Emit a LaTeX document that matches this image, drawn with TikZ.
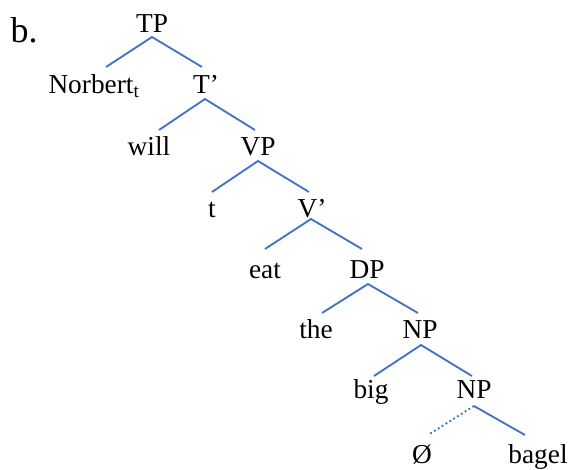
\documentclass[tikz,border=0pt]{standalone}
\usepackage{fontspec}
\setmainfont{Liberation Serif}
\begin{document}
\begin{tikzpicture}[x=0.75pt,y=-0.75pt,
  lbl/.style={anchor=base,inner sep=0pt,font=\fontsize{20.5pt}{24pt}\selectfont},
  br/.style={line width=1.4pt,color={rgb,255:red,68;green,114;blue,196}},
  dotbr/.style={br,dotted}]
\useasboundingbox (0,0) rectangle (568,469);
\node[anchor=base,inner sep=0pt,font=\fontsize{27pt}{30pt}\selectfont] (lab) at (24,42) {b.};
% labels
\node[lbl] (TP) at (152,32) {TP};
\node[lbl] (Nor) at (94,93) {Norbert\textsubscript{t}};
\node[lbl] (Tb) at (206,93) {T’};
\node[lbl] (will) at (149,155) {will};
\node[lbl] (VP) at (258,155) {VP};
\node[lbl] (t) at (212,217) {t};
\node[lbl] (Vb) at (312,217) {V’};
\node[lbl] (eat) at (265,278) {eat};
\node[lbl] (DP) at (367,278) {DP};
\node[lbl] (the) at (316,338) {the};
\node[lbl] (NPa) at (420,338) {NP};
\node[lbl] (big) at (371,398) {big};
\node[lbl] (NPb) at (474,398) {NP};
\node[lbl] (O) at (422,463) {Ø};
\node[lbl] (bagel) at (538,463) {bagel};
% connector ends
\coordinate (TPd) at (152,37);
\coordinate (Noru) at (106,67);
\coordinate (Tbu) at (202,67);
\coordinate (Tbd) at (205,99);
\coordinate (willu) at (159,130);
\coordinate (VPu) at (255,130);
\coordinate (VPd) at (258,161);
\coordinate (tu) at (212,192);
\coordinate (Vbu) at (309,192);
\coordinate (Vbd) at (311,219);
\coordinate (eatu) at (265,249);
\coordinate (DPu) at (362,249);
\coordinate (DPd) at (368,284);
\coordinate (theu) at (322,313);
\coordinate (NPau) at (418,313);
\coordinate (NPad) at (421,345);
\coordinate (bigu) at (374,376);
\coordinate (NPbu) at (472,376);
\coordinate (NPbd) at (474,406);
\coordinate (Ou) at (428,435);
\coordinate (bagelu) at (525,435);
\draw[br] (Noru) -- (TPd) -- (Tbu);
\draw[br] (willu) -- (Tbd) -- (VPu);
\draw[br] (tu) -- (VPd) -- (Vbu);
\draw[br] (eatu) -- (Vbd) -- (DPu);
\draw[br] (theu) -- (DPd) -- (NPau);
\draw[br] (bigu) -- (NPad) -- (NPbu);
\draw[dotbr] (NPbd) -- (Ou);
\draw[br] (NPbd) -- (bagelu);
\end{tikzpicture}
\end{document}
